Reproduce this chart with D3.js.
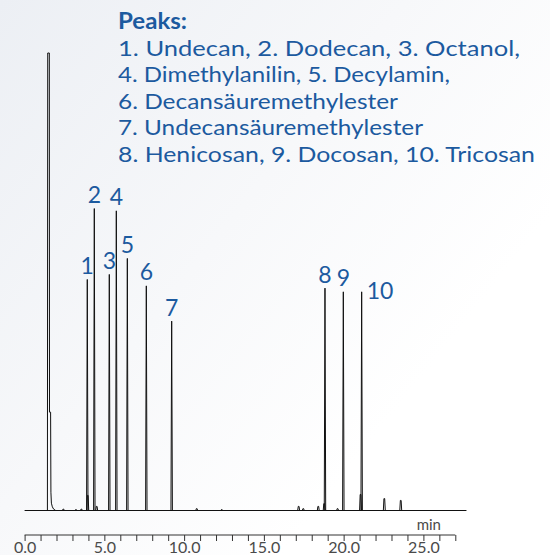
<!DOCTYPE html>
<html>
<head>
<meta charset="utf-8">
<script src="https://cdn.jsdelivr.net/npm/d3@7/dist/d3.min.js"></script>
<style>
  html, body { margin: 0; padding: 0; background: #ffffff; }
  svg { display: block; }
</style>
</head>
<body>
<svg id="chart" width="550" height="555"></svg>
<script>
// Retention times (min) and detector signal of the numbered peaks
const peakTimes   = [3.93, 4.37, 5.31, 5.75, 6.44, 7.63, 9.22, 18.83, 19.98, 21.13];
const peakHeights = [505, 660, 516, 655, 551, 491, 414, 486, 478, 478];
const peakNames   = ["1", "2", "3", "4", "5", "6", "7", "8", "9", "10"];

// Small unlabelled peaks and peak feet on the baseline
const minorTimes   = [2.43, 3.22, 3.56, 3.96, 4.52, 10.79, 12.36, 17.18, 17.47, 18.41, 18.78, 19.62, 21.06, 22.55, 23.58];
const minorHeights = [3, 2, 3, 33, 9, 4, 2, 9, 4, 9, 15, 4, 35, 26, 22];

// Solvent peak (off scale, flat top) with its tail
const solventTimes   = [1.43, 1.45, 1.55, 1.56, 1.63, 1.65, 1.68, 1.74, 1.82, 1.95];
const solventSignals = [0, 1000, 1000, 215, 215, 40, 16, 8, 3, 0];

// Run length and time axis
const runEnd = 27.7;
const axisTicks = d3.range(0, 28, 1);

// Legend lines
const legendTitle = "Peaks:";
const legendLines = [
  "1. Undecan, 2. Dodecan, 3. Octanol,",
  "4. Dimethylanilin, 5. Decylamin,",
  "6. Decansäuremethylester",
  "7. Undecansäuremethylester",
  "8. Henicosan, 9. Docosan, 10. Tricosan"
];
const legendWidths = [402, 332, 280, 305, 417];

const blue = "#1c5a9f";
const font = "Lato, 'Open Sans', sans-serif";

const svg = d3.select("#chart");

// soft background shading
const defs = svg.append("defs");
const grad = defs.append("linearGradient")
  .attr("id", "bg").attr("x1", "0").attr("y1", "0").attr("x2", "1").attr("y2", "0.8");
grad.append("stop").attr("offset", "0").attr("stop-color", "#eceff4");
grad.append("stop").attr("offset", "0.45").attr("stop-color", "#f7f8fa");
grad.append("stop").attr("offset", "0.8").attr("stop-color", "#ffffff");
svg.append("rect").attr("width", 550).attr("height", 555).attr("fill", "url(#bg)");

const x = d3.scaleLinear().domain([0, 27]).range([24.6, 455.3]);
const y = d3.scaleLinear().domain([0, 1000]).range([510.5, 53]);

const line = d3.line().x(d => x(d[0])).y(d => y(d[1]));
const trace = svg.append("g").attr("fill", "none").attr("stroke", "#111").attr("stroke-width", 1);

// baseline
trace.append("path").attr("d", line([[0, 0], [runEnd, 0]]));

// solvent peak
trace.append("path").attr("d", line(solventTimes.map((t, i) => [t, solventSignals[i]])));

// minor peaks
const minorHalf = 0.06;
trace.selectAll("path.minor")
  .data(minorTimes.map((t, i) => ({ t, h: minorHeights[i] })))
  .join("path").attr("class", "minor")
  .attr("d", d => line([[d.t - minorHalf, 0], [d.t - minorHalf * 0.4, d.h], [d.t + minorHalf * 0.4, d.h], [d.t + minorHalf, 0]]));

// numbered peaks
const peakHalf = 0.045;
const peaks = peakTimes.map((t, i) => ({ t, h: peakHeights[i], name: peakNames[i] }));
trace.selectAll("path.peak")
  .data(peaks)
  .join("path").attr("class", "peak")
  .attr("d", d => line([[d.t - peakHalf, 0], [d.t, d.h], [d.t + peakHalf, 0]]));

// peak numbers
const labelPlace = { "10": { anchor: "start", dx: 5, dy: 13 } };
svg.append("g")
  .attr("font-family", font).attr("font-size", 23).attr("fill", blue)
  .selectAll("text").data(peaks).join("text")
  .attr("x", d => x(d.t) + ((labelPlace[d.name] || {}).dx || 0))
  .attr("y", d => y(d.h) - 5.5 + ((labelPlace[d.name] || {}).dy || 0))
  .attr("text-anchor", d => (labelPlace[d.name] || {}).anchor || "middle")
  .text(d => d.name);

// legend
const legend = svg.append("g").attr("font-family", font).attr("fill", blue);
legend.append("text")
  .attr("x", 118).attr("y", 29)
  .attr("font-size", 22).attr("font-weight", 700)
  .attr("textLength", 69).attr("lengthAdjust", "spacingAndGlyphs")
  .text(legendTitle);
legend.selectAll("text.line").data(legendLines).join("text").attr("class", "line")
  .attr("x", 118).attr("y", (d, i) => 55.5 + i * 26.6)
  .attr("font-size", 22)
  .attr("textLength", (d, i) => legendWidths[i]).attr("lengthAdjust", "spacingAndGlyphs")
  .text(d => d);

// time axis
const axis = d3.axisBottom(x)
  .tickValues(axisTicks)
  .tickSize(6).tickPadding(1)
  .tickFormat(d => d % 5 === 0 ? d3.format(".1f")(d) : "");
const ax = svg.append("g").attr("transform", "translate(0,535)").call(axis);
ax.select(".domain").attr("stroke", "#333").attr("d", `M${x(0)},0H${x(27)}`);
ax.selectAll(".tick line").attr("stroke", "#333");
ax.selectAll(".tick text").attr("font-family", font).attr("font-size", 16).attr("fill", "#4a4a4a");

svg.append("text")
  .attr("x", 441).attr("y", 530).attr("text-anchor", "end")
  .attr("font-family", font).attr("font-size", 15).attr("fill", "#4a4a4a")
  .text("min");
</script>
</body>
</html>
